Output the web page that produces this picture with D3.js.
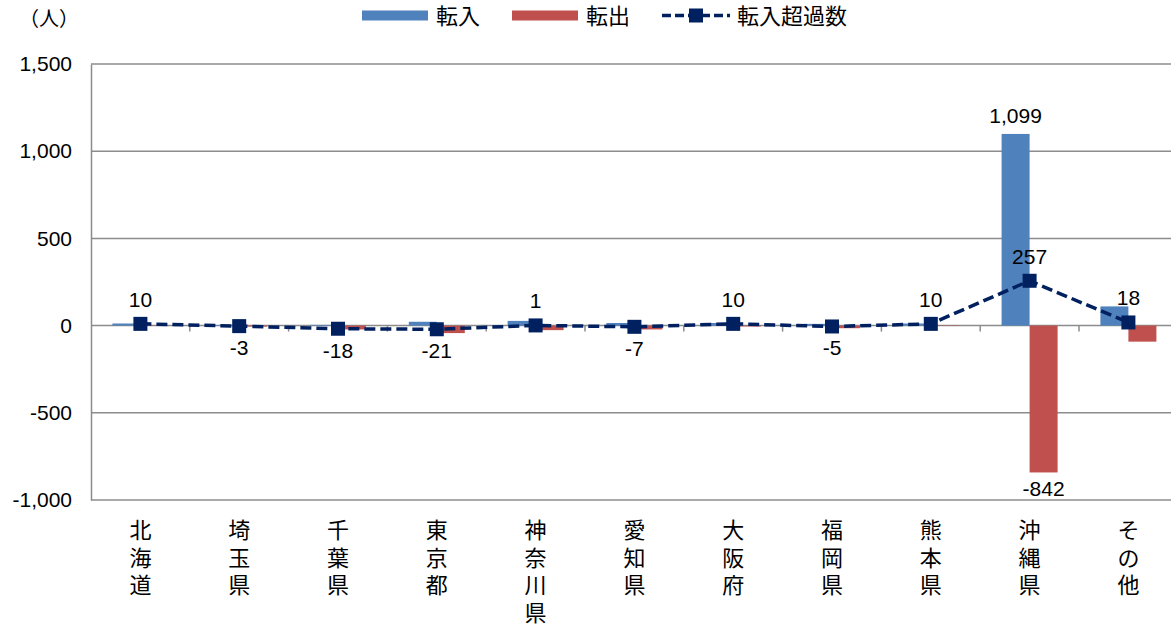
<!DOCTYPE html>
<html>
<head>
<meta charset="utf-8">
<script src="https://cdn.jsdelivr.net/npm/d3@7"></script>
<style>
  html, body { margin: 0; padding: 0; background: #fff; }
  svg { display: block; }
</style>
</head>
<body>
<svg id="chart" width="1171" height="627"></svg>
<script>
// Prefectures (names stacked vertically under the axis)
const categories = ["北海道", "埼玉県", "千葉県", "東京都", "神奈川県", "愛知県", "大阪府", "福岡県", "熊本県", "沖縄県", "その他"];
// Move-ins (転入) and move-outs (転出, drawn downward)
const moveIn  = [12, 3, 4, 22, 27, 15, 15, 10, 12, 1099, 110];
const moveOut = [2, 6, 22, 43, 26, 22, 5, 15, 2, 842, 92];
// Net in-migration (転入超過数)
const netIn   = [10, -3, -18, -21, 1, -7, 10, -5, 10, 257, 18];
// Y-axis ticks
const yTicks  = [-1000, -500, 0, 500, 1000, 1500];
// Bar values that carry a data label
const labelledIn  = ["沖縄県"];
const labelledOut = ["沖縄県"];

// Thousands separator with a plain hyphen for negatives
const fmt = v => d3.format(",")(v).replace("\u2212", "-");
const latin = "'Liberation Sans', Arial, sans-serif";
const cjk = "'Noto Sans CJK JP', sans-serif";
const colIn = "#4F81BD", colOut = "#C0504D", colNet = "#002060", colGrid = "#8C8C8C";

const svg = d3.select("#chart");
const plotLeft = 91, plotTop = 64, plotBottom = 500;
const bandW = 98.8;
const plotRight = plotLeft + bandW * categories.length;

const x = d3.scaleBand().domain(categories).range([plotLeft, plotRight]).padding(0);
const y = d3.scaleLinear().domain([-1000, 1500]).range([plotBottom, plotTop]);
const barW = 28;

// Gridlines
svg.append("g").selectAll("line").data(yTicks).join("line")
  .attr("x1", plotLeft).attr("x2", plotRight)
  .attr("y1", d => y(d)).attr("y2", d => y(d))
  .attr("stroke", colGrid).attr("stroke-width", 1.5);

// Y axis
const yAxis = svg.append("g").attr("transform", `translate(${plotLeft},0)`)
  .call(d3.axisLeft(y).tickValues(yTicks).tickFormat(fmt).tickSize(0).tickPadding(19));
yAxis.select(".domain").attr("stroke", colGrid).attr("stroke-width", 1.5);
yAxis.selectAll("text").attr("font-family", latin).attr("font-size", 21).attr("fill", "#000");

// Category boundary ticks on the zero line
svg.append("g").selectAll("line").data(d3.range(1, categories.length + 1)).join("line")
  .attr("x1", i => plotLeft + bandW * i).attr("x2", i => plotLeft + bandW * i)
  .attr("y1", y(0)).attr("y2", y(0) + 6)
  .attr("stroke", colGrid).attr("stroke-width", 1.5);

// Bars
svg.append("g").selectAll("rect").data(categories).join("rect")
  .attr("x", (c) => x(c) + x.bandwidth() / 2 - barW)
  .attr("width", barW)
  .attr("y", (c, i) => y(moveIn[i]))
  .attr("height", (c, i) => y(0) - y(moveIn[i]))
  .attr("fill", colIn);
svg.append("g").selectAll("rect").data(categories).join("rect")
  .attr("x", (c) => x(c) + x.bandwidth() / 2)
  .attr("width", barW)
  .attr("y", y(0))
  .attr("height", (c, i) => y(-moveOut[i]) - y(0))
  .attr("fill", colOut);

// Bar labels
categories.forEach((c, i) => {
  if (labelledIn.includes(c)) {
    svg.append("text").attr("x", x(c) + x.bandwidth() / 2 - barW / 2).attr("y", y(moveIn[i]) - 11)
      .attr("text-anchor", "middle").attr("font-family", latin).attr("font-size", 21)
      .text(fmt(moveIn[i]));
  }
  if (labelledOut.includes(c)) {
    svg.append("text").attr("x", x(c) + x.bandwidth() / 2 + barW / 2).attr("y", y(-moveOut[i]) + 24)
      .attr("text-anchor", "middle").attr("font-family", latin).attr("font-size", 21)
      .text(fmt(-moveOut[i]));
  }
});

// Net line
const cx = c => x(c) + x.bandwidth() / 2;
const line = d3.line().x((d, i) => cx(categories[i])).y(d => y(d));
svg.append("path").datum(netIn).attr("d", line)
  .attr("fill", "none").attr("stroke", colNet).attr("stroke-width", 3.5)
  .attr("stroke-dasharray", "11,5");
const mk = 14;
svg.append("g").selectAll("rect").data(netIn).join("rect")
  .attr("x", (d, i) => cx(categories[i]) - mk / 2)
  .attr("y", d => y(d) - mk / 2)
  .attr("width", mk).attr("height", mk).attr("fill", colNet);

// Net labels
svg.append("g").selectAll("text").data(netIn).join("text")
  .attr("x", (d, i) => cx(categories[i]))
  .attr("y", d => d >= 0 ? y(d) - 17 : y(d) + 29)
  .attr("text-anchor", "middle").attr("font-family", latin).attr("font-size", 21)
  .text(d => fmt(d));

// Category labels, one character per line
const catG = svg.append("g");
categories.forEach(c => {
  const t = catG.append("text").attr("text-anchor", "middle")
    .attr("font-family", cjk).attr("font-size", 22).attr("fill", "#000");
  Array.from(c).forEach((ch, k) => {
    t.append("tspan").attr("x", cx(c)).attr("y", 538 + k * 27.7).text(ch);
  });
});

// Unit label
svg.append("text").attr("x", 49).attr("y", 26).attr("text-anchor", "middle")
  .attr("font-family", cjk).attr("font-size", 20).text("（人）");

// Legend
const lg = svg.append("g").attr("font-family", cjk).attr("font-size", 22);
lg.append("rect").attr("x", 362).attr("y", 10.5).attr("width", 66).attr("height", 10).attr("fill", colIn);
lg.append("text").attr("x", 436).attr("y", 24).text("転入");
lg.append("rect").attr("x", 512).attr("y", 10.5).attr("width", 66).attr("height", 10).attr("fill", colOut);
lg.append("text").attr("x", 586).attr("y", 24).text("転出");
lg.append("line").attr("x1", 662).attr("x2", 730).attr("y1", 15.5).attr("y2", 15.5)
  .attr("stroke", colNet).attr("stroke-width", 3.5).attr("stroke-dasharray", "9,4");
lg.append("rect").attr("x", 689).attr("y", 8.5).attr("width", 14).attr("height", 14).attr("fill", colNet);
lg.append("text").attr("x", 737).attr("y", 24).text("転入超過数");
</script>
</body>
</html>
